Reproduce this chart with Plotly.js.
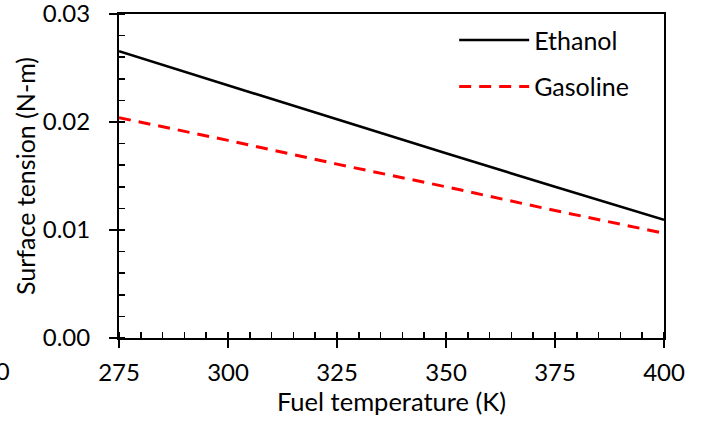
<!DOCTYPE html>
<html>
<head>
<meta charset="utf-8">
<script src="https://cdn.plot.ly/plotly-3.0.1.min.js"></script>
<style>html,body{margin:0;padding:0;background:#fff;}#chart{width:702px;height:424px;}</style>
</head>
<body>
<div id="chart"></div>
<script>
const temperature = [275, 300, 325, 350, 375, 400];
const ethanol = [0.02655, 0.0234, 0.0202, 0.0171, 0.0140, 0.01095];
const gasoline = [0.0204, 0.0183, 0.0161, 0.0140, 0.0118, 0.0097];
const xTicks = [275, 300, 325, 350, 375, 400];
const yTicks = [0, 0.01, 0.02, 0.03];
const yTickText = ['0.00', '0.01', '0.02', '0.03'];

const font = 'Lato, "Open Sans", sans-serif';

const traces = [
  {x: temperature, y: ethanol, name: 'Ethanol', mode: 'lines', legendgroup: 'a',
   line: {color: '#000000', width: 2.6}},
  {x: temperature, y: gasoline, name: 'Gasoline', mode: 'lines', legendgroup: 'b',
   line: {color: '#ff0000', width: 3, dash: '12px,8px'}}
];

const layout = {
  width: 702, height: 424,
  margin: {l: 119, r: 38, t: 14, b: 86},
  paper_bgcolor: '#ffffff', plot_bgcolor: '#ffffff',
  font: {family: font, color: '#000000', size: 24},
  showlegend: true,
  legend: {x: 0.615, y: 0.99, xanchor: 'left', yanchor: 'top',
           bgcolor: 'rgba(0,0,0,0)', font: {size: 25, family: font},
           itemwidth: 70, traceorder: 'grouped', tracegroupgap: 11},
  xaxis: {range: [275, 400], tickvals: xTicks, ticktext: xTicks.map(String),
          showgrid: false, zeroline: false, showline: true, linecolor: '#000', linewidth: 2,
          mirror: true, ticks: 'outside', ticklen: 8, tickwidth: 2, tickcolor: '#000',
          ticklabelstandoff: 4, ticklabeloverflow: 'allow',
          tickfont: {size: 24, family: font},
          minor: {dtick: 5, ticks: 'inside', ticklen: 6, tickwidth: 1.5, tickcolor: '#000', showgrid: false},
          title: {text: 'Fuel temperature (K)', font: {size: 25.5, family: font}, standoff: 4}},
  yaxis: {range: [0, 0.03], tickvals: yTicks, ticktext: yTickText,
          showgrid: false, zeroline: false, showline: true, linecolor: '#000', linewidth: 2,
          mirror: true, ticks: 'outside', ticklen: 8, tickwidth: 2, tickcolor: '#000',
          ticklabelstandoff: 14, ticklabeloverflow: 'allow',
          tickfont: {size: 24, family: font},
          minor: {dtick: 0.002, ticks: 'inside', ticklen: 6, tickwidth: 1.5, tickcolor: '#000', showgrid: false},
          title: {text: 'Surface tension (N-m)', font: {size: 25, family: font}, standoff: 0}},
  xaxis2: {overlaying: 'x', anchor: 'y', range: [275, 400], tickvals: xTicks, showticklabels: false,
           ticks: 'inside', ticklen: 8, tickwidth: 2, tickcolor: '#000', showgrid: false, zeroline: false, showline: false},
  yaxis2: {overlaying: 'y', anchor: 'x', range: [0, 0.03], tickvals: yTicks, showticklabels: false,
           ticks: 'inside', ticklen: 8, tickwidth: 2, tickcolor: '#000', showgrid: false, zeroline: false, showline: false},
  annotations: [
    {text: '250', xref: 'paper', yref: 'paper', x: -0.238, y: -0.1, xanchor: 'center', yanchor: 'middle',
     showarrow: false, font: {size: 24, family: font}}
  ]
};

Plotly.newPlot('chart', traces, layout, {displayModeBar: false, staticPlot: true});
</script>
</body>
</html>
